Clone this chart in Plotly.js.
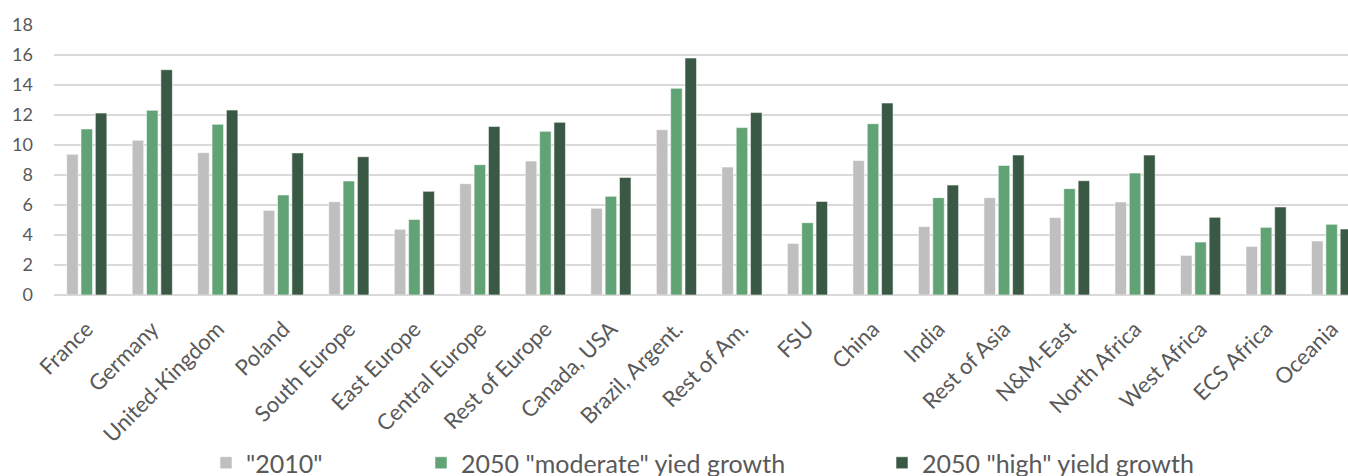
<!DOCTYPE html>
<html>
<head>
<meta charset="utf-8">
<script src="https://cdn.plot.ly/plotly-3.0.1.min.js"></script>
<style>
html,body{margin:0;padding:0;background:#fff;overflow:hidden;}
#chart{width:1348px;height:500px;}
</style>
</head>
<body>
<div id="chart"></div>
<script>
var categories = ["France","Germany","United-Kingdom","Poland","South Europe","East Europe","Central Europe","Rest of Europe","Canada, USA","Brazil, Argent.","Rest of Am.","FSU","China","India","Rest of Asia","N&M-East","North Africa","West Africa","ECS Africa","Oceania"];
var seriesNames = ["\"2010\"", "2050 \"moderate\" yied growth", "2050 \"high\" yield growth"];
var values2010 = [9.38,10.31,9.49,5.64,6.22,4.38,7.42,8.93,5.78,11.02,8.53,3.44,8.96,4.56,6.49,5.16,6.20,2.64,3.24,3.60];
var valuesModerate = [11.07,12.31,11.38,6.67,7.60,5.04,8.69,10.91,6.58,13.78,11.16,4.82,11.42,6.49,8.64,7.09,8.13,3.53,4.51,4.71];
var valuesHigh = [12.13,15.02,12.33,9.47,9.22,6.91,11.24,11.51,7.84,15.80,12.16,6.24,12.80,7.33,9.33,7.62,9.33,5.18,5.87,4.40];
var yTicks = [0,2,4,6,8,10,12,14,16,18];

var colors = ["#bfbfbf", "#62a376", "#3a5944"];
var allValues = [values2010, valuesModerate, valuesHigh];
var legends = ["legend", "legend2", "legend3"];

var traces = allValues.map(function(v, i){
  return {
    type: "bar",
    x: categories,
    y: v,
    name: seriesNames[i],
    legend: legends[i],
    marker: {color: colors[i], line: {color: "rgba(255,255,255,0.55)", width: 1}},
    hoverinfo: "x+y+name"
  };
});

var txt = "#595959";
var fontFam = "Lato, 'Open Sans', sans-serif";
var H = 500, T = 25, B = H - 295;
function legendAt(xpx){
  return {
    orientation: "h",
    x: (xpx - 54) / 1294,
    xanchor: "left",
    y: (295 - 463) / 270,
    yanchor: "middle",
    font: {family: fontFam, size: 25, color: txt},
    bgcolor: "rgba(0,0,0,0)",
    itemclick: false
  };
}

var layout = {
  width: 1348,
  height: H,
  margin: {l: 54, r: 0, t: T, b: B},
  paper_bgcolor: "#ffffff",
  plot_bgcolor: "#ffffff",
  barmode: "group",
  bargap: 0.344,
  bargroupgap: 0.196,
  showlegend: true,
  legend: legendAt(206),
  legend2: legendAt(421),
  legend3: legendAt(882),
  xaxis: {
    type: "category",
    range: [-0.5, 19.25],
    tickangle: -45,
    tickfont: {family: fontFam, size: 22, color: txt},
    showgrid: false,
    ticks: "",
    showline: false,
    zeroline: false,
    ticklabelstandoff: 16,
    automargin: false
  },
  yaxis: {
    range: [0, 18],
    tickvals: yTicks,
    ticktext: yTicks.map(String),
    tickfont: {family: fontFam, size: 18, color: txt},
    showgrid: true,
    gridcolor: "#d9d9d9",
    gridwidth: 1.3,
    zeroline: true,
    zerolinecolor: "#d9d9d9",
    zerolinewidth: 1.3,
    showline: false,
    ticks: "",
    ticklabelstandoff: 20,
    automargin: false
  }
};

Plotly.newPlot("chart", traces, layout, {displayModeBar: false, staticPlot: true});
</script>
</body>
</html>
